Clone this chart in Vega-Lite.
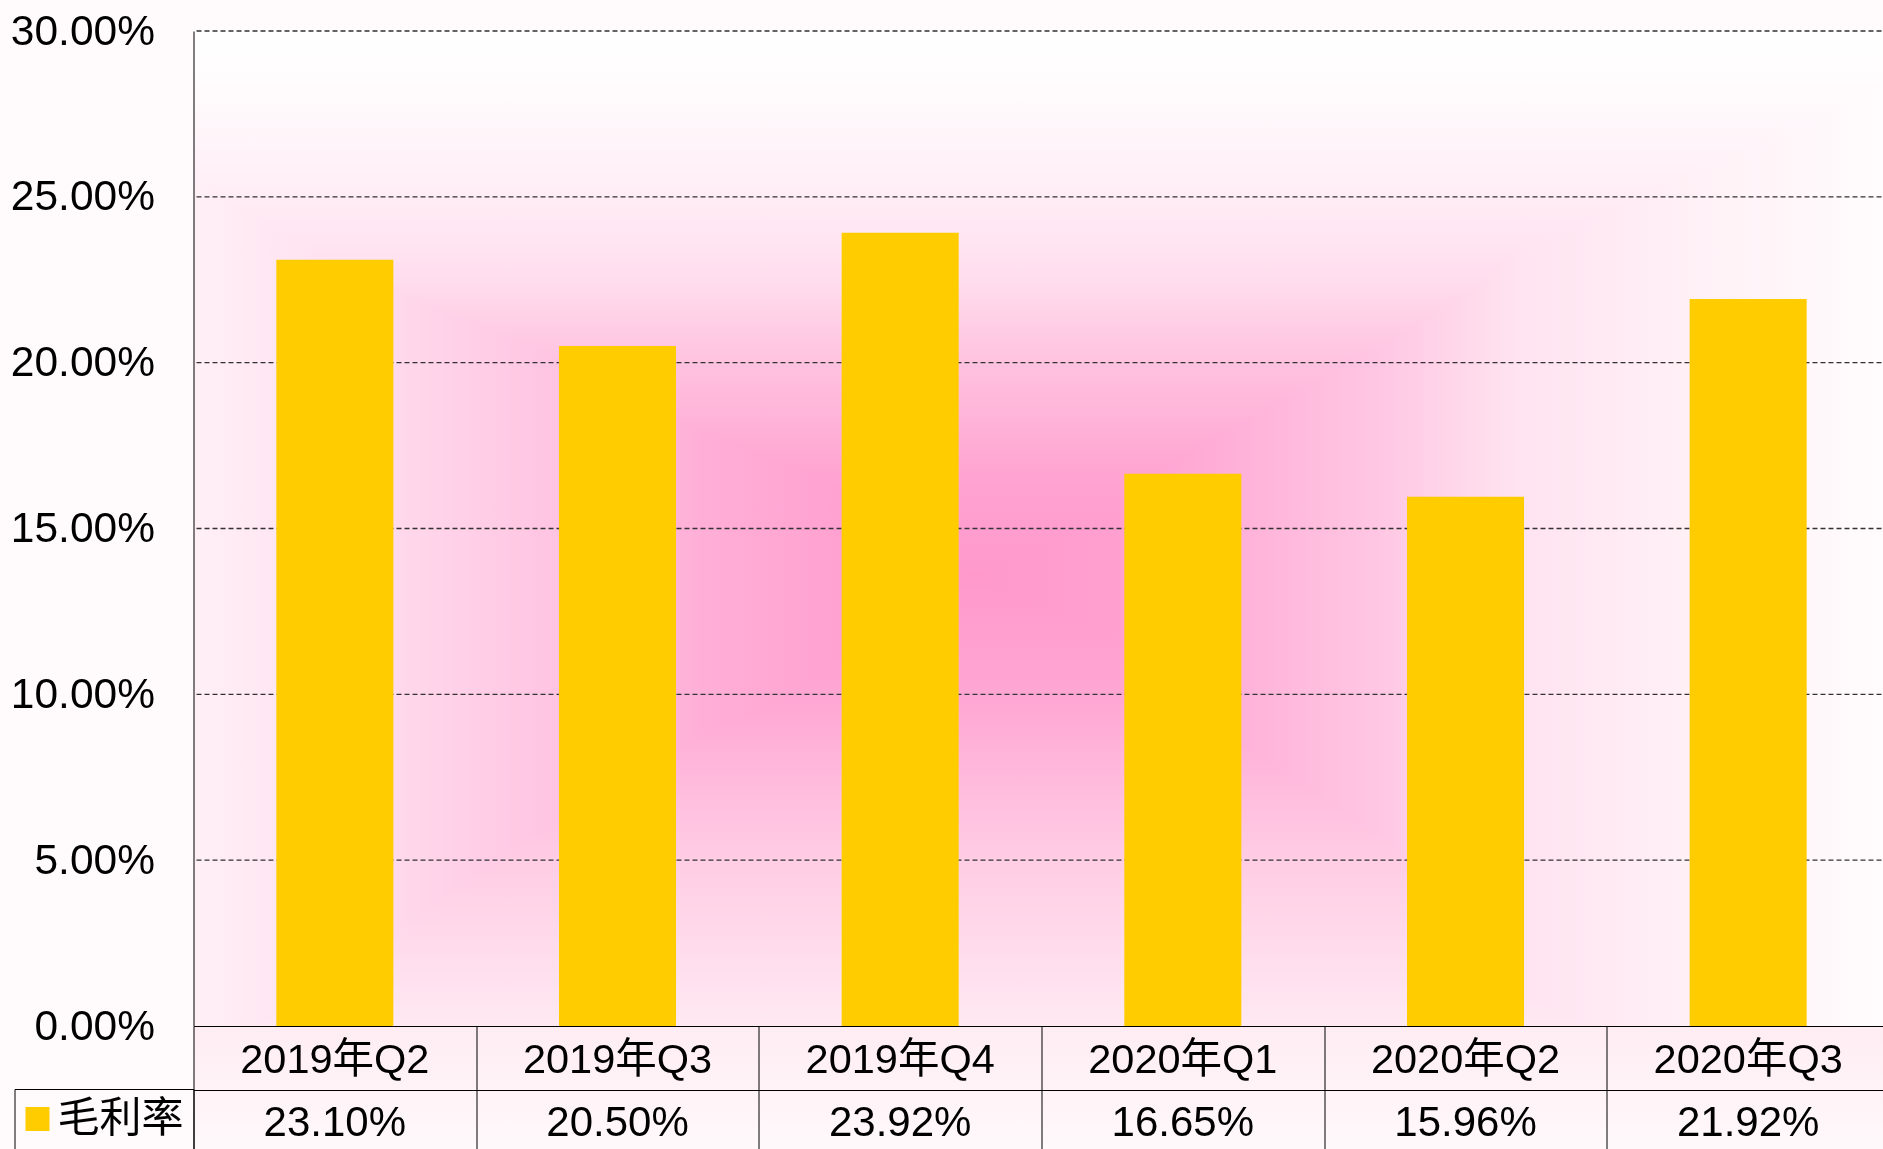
{
  "$schema": "https://vega.github.io/schema/vega-lite/v6.json",
  "padding": {"left": 9.5, "top": 10, "right": 0, "bottom": 0},
  "background": "#FFFAFC",
  "bounds": "flush",
  "spacing": 0,
  "data": {"values": [
    {"quarter": "2019年Q2", "rate": 0.2310},
    {"quarter": "2019年Q3", "rate": 0.2050},
    {"quarter": "2019年Q4", "rate": 0.2392},
    {"quarter": "2020年Q1", "rate": 0.1665},
    {"quarter": "2020年Q2", "rate": 0.1596},
    {"quarter": "2020年Q3", "rate": 0.2192}
  ]},
  "config": {
    "font": "Liberation Sans, Noto Sans CJK SC",
    "view": {"stroke": null},
    "axis": {"title": null, "labelFont": "Liberation Sans, Noto Sans CJK SC"}
  },
  "vconcat": [
    {
      "width": 1696,
      "height": 995,
      "layer": [
        {
          "data": {"values": [{"bg": "horizontal"}]},
          "mark": {"type": "rect", "fill": {"gradient": "linear", "x1": 0, "y1": 0, "x2": 1, "y2": 0, "stops": [
            {"offset": 0, "color": "#FFF0F6"},
            {"offset": 0.1, "color": "#FFDDEE"},
            {"offset": 0.2, "color": "#FFC7E3"},
            {"offset": 0.3, "color": "#FFAFD7"},
            {"offset": 0.4, "color": "#FF9ECF"},
            {"offset": 0.46, "color": "#FF99CC"},
            {"offset": 0.55, "color": "#FFA0D0"},
            {"offset": 0.62, "color": "#FFB2D9"},
            {"offset": 0.7, "color": "#FFC7E3"},
            {"offset": 0.78, "color": "#FFE3F0"},
            {"offset": 0.88, "color": "#FFF0F6"},
            {"offset": 0.96, "color": "#FFF8FB"},
            {"offset": 1, "color": "#FFFCFD"}
          ]}},
          "encoding": {
            "y": {"datum": 0, "type": "quantitative"},
            "y2": {"datum": 0.3}
          }
        },
        {
          "data": {"values": [{"bg": "vertical"}]},
          "mark": {"type": "rect", "blend": "lighten", "fill": {"gradient": "linear", "x1": 0, "y1": 0, "x2": 0, "y2": 1, "stops": [
            {"offset": 0, "color": "#FFFFFF"},
            {"offset": 0.05, "color": "#FFFCFD"},
            {"offset": 0.1, "color": "#FFF6FA"},
            {"offset": 0.166, "color": "#FFEDF5"},
            {"offset": 0.25, "color": "#FFDDEE"},
            {"offset": 0.333, "color": "#FFC2DF"},
            {"offset": 0.45, "color": "#FFA3D1"},
            {"offset": 0.55, "color": "#FF99CC"},
            {"offset": 0.667, "color": "#FFA6D3"},
            {"offset": 0.83, "color": "#FFCCE4"},
            {"offset": 1, "color": "#FFE9F2"}
          ]}},
          "encoding": {
            "y": {"datum": 0, "type": "quantitative"},
            "y2": {"datum": 0.3}
          }
        },
        {
          "data": {"values": [{"grid": 0.05}, {"grid": 0.10}, {"grid": 0.15}, {"grid": 0.20}, {"grid": 0.25}, {"grid": 0.30}]},
          "mark": {"type": "rule", "color": "#333333", "strokeWidth": 1.3, "strokeDash": [5, 3]},
          "encoding": {
            "y": {"field": "grid", "type": "quantitative"}
          }
        },
        {
          "mark": {"type": "bar", "width": {"band": 0.414}},
          "encoding": {
            "x": {
              "field": "quarter", "type": "nominal", "sort": null,
              "scale": {"paddingInner": 0, "paddingOuter": 0},
              "axis": {"labels": false, "ticks": false, "domain": true, "domainColor": "#000000", "domainWidth": 1, "grid": false, "title": null, "zindex": 1}
            },
            "y": {
              "field": "rate", "type": "quantitative",
              "scale": {"domain": [0, 0.3], "nice": false, "zero": true},
              "axis": {"format": ".2%", "values": [0, 0.05, 0.1, 0.15, 0.2, 0.25, 0.3], "grid": false, "ticks": false, "domain": true, "domainColor": "#000000", "domainWidth": 1, "labelFontSize": 42.5, "labelColor": "#000000", "labelPadding": 39, "labelFont": "Liberation Sans", "title": null, "zindex": 1}
            },
            "color": {
              "datum": "毛利率", "type": "nominal",
              "scale": {"range": ["#FFCC00"]},
              "legend": {"orient": "none", "legendX": -179, "legendY": 1058, "title": null, "symbolType": "square", "symbolSize": 576, "symbolStrokeWidth": 0, "symbolOffset": -7, "labelFontSize": 42, "labelFont": "Noto Sans CJK SC", "labelColor": "#000000", "labelOffset": -1, "padding": 9, "strokeColor": "#000000"}
            }
          }
        }
      ]
    },
    {
      "width": 1696,
      "height": 127,
      "view": {"fill": {"gradient": "linear", "x1": 0, "y1": 0, "x2": 0, "y2": 1, "stops": [
        {"offset": 0, "color": "#FEEDF3"},
        {"offset": 1, "color": "#FFF9FB"}
      ]}, "stroke": null},
      "encoding": {
        "x": {
          "field": "quarter", "type": "nominal", "sort": null,
          "scale": {"paddingInner": 0, "paddingOuter": 0},
          "axis": {"orient": "bottom", "labels": false, "ticks": false, "domain": false, "grid": true, "tickBand": "extent", "gridColor": "#000000", "gridWidth": 1, "gridOpacity": 1, "title": null}
        }
      },
      "layer": [
        {
          "mark": {"type": "text", "fontSize": 41.5, "color": "#000000", "font": "Liberation Sans, Noto Sans CJK SC", "dy": 3},
          "encoding": {
            "y": {
              "datum": "cat", "type": "nominal",
              "scale": {"type": "band", "domain": ["cat", "val"], "paddingInner": 0, "paddingOuter": 0},
              "axis": {"labels": false, "ticks": false, "domain": false, "grid": true, "tickBand": "extent", "gridColor": "#000000", "gridWidth": 1, "gridOpacity": 1, "title": null}
            },
            "text": {"field": "quarter"}
          }
        },
        {
          "mark": {"type": "text", "fontSize": 42, "color": "#000000", "font": "Liberation Sans", "dy": 2},
          "encoding": {
            "y": {"datum": "val", "type": "nominal"},
            "text": {"field": "rate", "type": "quantitative", "format": ".2%"}
          }
        }
      ]
    }
  ]
}
